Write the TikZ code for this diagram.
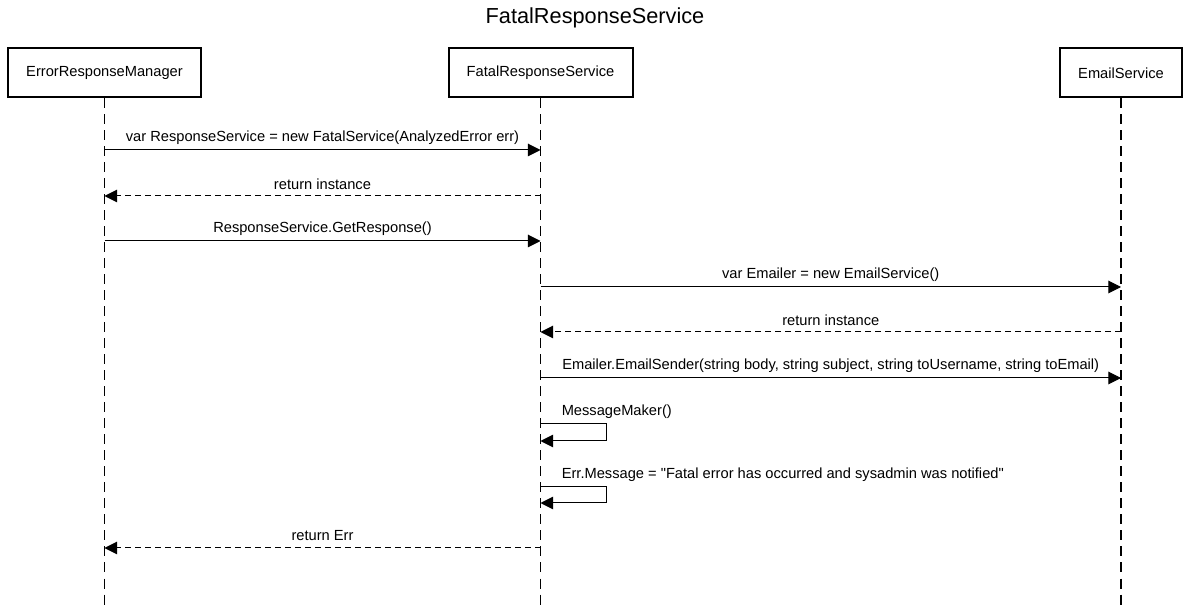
\documentclass[tikz,border=0pt]{standalone}
\usepackage{fontspec}
\setmainfont{Liberation Sans}
\usetikzlibrary{arrows.meta}
\newcommand{\lbl}{\fontsize{11}{13}\selectfont}
\tikzset{
  actor/.style={draw,line width=1.5pt,minimum height=36.75pt,inner sep=0pt,font=\lbl},
  lifeline/.style={line width=0.9pt,dash pattern=on 7.5pt off 4.5pt},
  call/.style={line width=0.75pt,-{Triangle[length=9.4pt,width=9.4pt]}},
  reply/.style={call,dash pattern=on 4.5pt off 3pt},
  msgtext/.style={font=\lbl,yshift=9pt,inner sep=0pt},
}
\newcommand{\selfcall}[3]{%
  \draw[call] (frs-#1) -- (self-#1) |- (frs-#2);
  \node[msgtext,anchor=west] (txt-#1) at ([xshift=15.75pt]frs-#1) {#3};
}

\begin{document}
\begin{tikzpicture}[x=0.75pt,y=-0.75pt]
  \useasboundingbox (0,0) rectangle (1189,605);

  \node (title) at (595,18) {\fontsize{16.3}{19}\selectfont FatalResponseService};

  \node[actor,minimum width=144.75pt] (erm) at (104.5,73) {ErrorResponseManager};
  \node[actor,minimum width=138pt] (frs) at (540.5,73) {FatalResponseService};
  \node[actor,minimum width=91.5pt] (ems) at (1121,73) {EmailService};

  \foreach \n in {erm,frs,ems}
    \draw[lifeline] (\n.south) -- (\n.south |- 0,605);

  % message rows on each lifeline
  \foreach \i/\y in {1/150,2/196,3/241,4/287,5/332,6/378,7/424,8/441,9/487,10/503,11/548} {
    \coordinate (erm-\i) at (erm.south |- 0,\y);
    \coordinate (frs-\i) at (frs.south |- 0,\y);
    \coordinate (ems-\i) at (ems.south |- 0,\y);
  }
  \coordinate (self-7) at (606,424);
  \coordinate (self-9) at (606,487);

  \draw[call] (erm-1) -- (frs-1)
    node[msgtext,midway] {var ResponseService = new FatalService(AnalyzedError err)};
  \draw[reply] (frs-2) -- (erm-2) node[msgtext,midway] {return instance};
  \draw[call] (erm-3) -- (frs-3) node[msgtext,midway] {ResponseService.GetResponse()};

  \draw[call] (frs-4) -- (ems-4) node[msgtext,midway] {var Emailer = new EmailService()};
  \draw[reply] (ems-5) -- (frs-5) node[msgtext,midway] {return instance};
  \draw[call] (frs-6) -- (ems-6)
    node[msgtext,midway] {Emailer.EmailSender(string body, string subject, string toUsername, string toEmail)};

  \selfcall{7}{8}{MessageMaker()}
  \selfcall{9}{10}{Err.Message = \textquotedbl Fatal error has occurred and sysadmin was notified\textquotedbl}

  \draw[reply] (frs-11) -- (erm-11) node[msgtext,midway] {return Err};
\end{tikzpicture}
\end{document}
